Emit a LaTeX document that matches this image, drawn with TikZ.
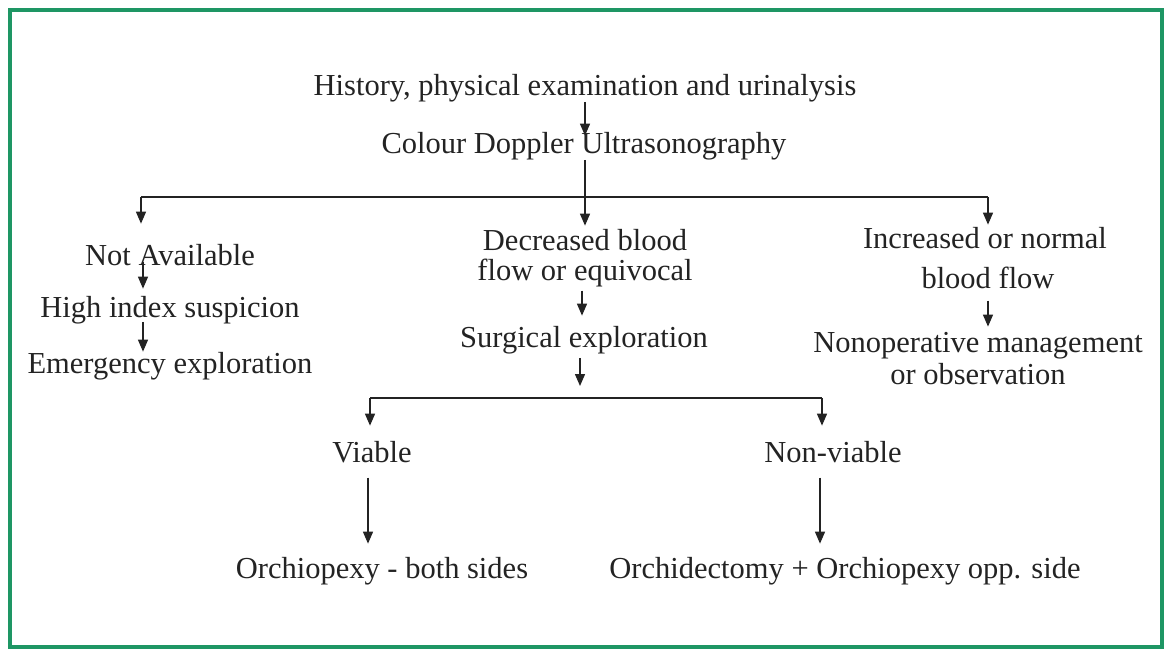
\documentclass[tikz,border=0pt]{standalone}
\usepackage{fontspec}
\setmainfont{Liberation Serif}
\usetikzlibrary{arrows.meta}
\definecolor{frame}{RGB}{30,150,100}
\definecolor{ink}{RGB}{35,35,35}
\begin{document}
\begin{tikzpicture}[x=1pt,y=-1pt,
  txt/.style={font=\fontsize{30.5}{33}\selectfont, text=ink, inner sep=0pt, anchor=base},
  arr/.style={draw=ink, line width=1.4pt, -{Triangle[width=10pt,length=12pt]}},
  ln/.style={draw=ink, line width=1.4pt}]
\useasboundingbox (0,0) rectangle (1168,649);
\draw[frame, line width=4pt] (10,10) rectangle (1162,647);

\node[txt] (hist) at (585,95) {History, physical examination and urinalysis};
\node[txt] (cdu) at (584,153) {Colour Doppler Ultrasonography};
\node[txt] (na) at (170,265) {Not Available};
\node[txt] (his) at (170,317) {High index suspicion};
\node[txt] (ee) at (170,373) {Emergency exploration};
\node[txt] (dec1) at (585,250) {Decreased blood};
\node[txt] (dec2) at (585,280) {flow or equivocal};
\node[txt] (se) at (584,347) {Surgical exploration};
\node[txt] (inc1) at (985,248) {Increased or normal};
\node[txt] (inc2) at (988,288) {blood flow};
\node[txt] (nom1) at (978,352) {Nonoperative management};
\node[txt] (nom2) at (978,384) {or observation};
\node[txt] (via) at (372,462) {Viable};
\node[txt] (nvia) at (833,462) {Non-viable};
\node[txt] (orc) at (382,578) {Orchiopexy - both sides};
\node[txt] (orcd) at (845,578) {Orchidectomy + Orchiopexy opp. side};

\coordinate (bl) at (141,197);
\coordinate (br) at (988,197);
\coordinate (bm) at (585,197);
\coordinate (lx) at (143,0);
\coordinate (mx) at (582,0);
\coordinate (sx) at (580,0);
\coordinate (vl) at (370,398);
\coordinate (vr) at (822,398);
\coordinate (vx) at (368,0);
\coordinate (nx) at (820,0);

\draw[arr, shorten >=-4pt] (hist.south -| bm) -- (cdu.north -| bm);
\draw[ln] (cdu.south -| bm) -- (bm);
\draw[ln] (bl) -- (br);
\draw[arr, shorten >=20pt] (bl) -- (bl |- na.north);
\draw[arr, shorten >=3pt] (bm) -- (bm |- dec1.north);
\draw[arr, shorten >=2pt] (br) -- (br |- inc1.north);

\draw[arr, shorten <=-4pt, shorten >=7pt] (na.south -| lx) -- (his.north -| lx);
\draw[arr, shorten <=-2pt] (his.south -| lx) -- (ee.north -| lx);

\draw[arr, shorten <=4pt, shorten >=10pt] (dec2.south -| mx) -- (se.north -| mx);
\draw[arr, shorten <=4pt] (se.south -| sx) -- ([yshift=12pt]sx |- vl);
\draw[ln] (vl) -- (vr);
\draw[arr, shorten >=15pt] (vl) -- (vl |- via.north);
\draw[arr, shorten >=15pt] (vr) -- (vr |- nvia.north);

\draw[arr, shorten <=15pt, shorten >=13pt] (via.south -| vx) -- (orc.north -| vx);
\draw[arr, shorten <=15pt, shorten >=13pt] (nvia.south -| nx) -- (orcd.north -| nx);

\draw[arr, shorten <=12pt, shorten >=5pt] (inc2.south -| br) -- (nom1.north -| br);
\end{tikzpicture}
\end{document}
